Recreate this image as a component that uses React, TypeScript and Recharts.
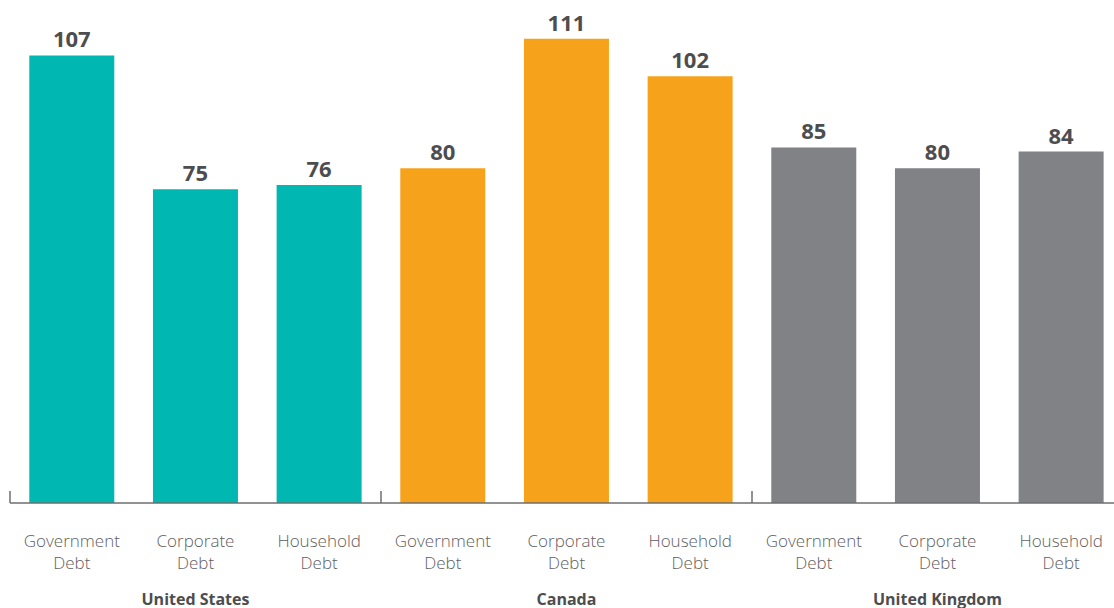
import React from "react";
import { BarChart, Bar, XAxis, YAxis, Cell, LabelList } from "recharts";

const categories = [
  "Government Debt", "Corporate Debt", "Household Debt",
  "Government Debt", "Corporate Debt", "Household Debt",
  "Government Debt", "Corporate Debt", "Household Debt",
];
const groups = ["United States", "Canada", "United Kingdom"];
const values = [107, 75, 76, 80, 111, 102, 85, 80, 84];
const groupColors = ["#00B7B2", "#F7A21B", "#808285"];

const data = categories.map((c, i) => ({
  key: `${i}`,
  label: c,
  group: groups[Math.floor(i / 3)],
  value: values[i],
  color: groupColors[Math.floor(i / 3)],
}));

const CHART_W = 1130;
const CHART_H = 608;
const MARGIN = { top: 1, right: 7, bottom: 0, left: 10 };
const BAND = (CHART_W - MARGIN.left - MARGIN.right) / data.length;

const Tick = (props: any) => {
  const { x, y, index } = props;
  const d = data[index];
  const words = d.label.split(" ");
  return (
    <g>
      {index % 3 === 0 && (
        <line x1={x - BAND / 2} x2={x - BAND / 2} y1={y - 12} y2={y} stroke="#6d6e71" strokeWidth={1.5} />
      )}
      <text x={x} y={y + 43.5} textAnchor="middle" fill="#5f6062" fontSize={17} fontWeight={300} fontFamily="'Open Sans', sans-serif">
        {words[0]}
      </text>
      <text x={x} y={y + 65.5} textAnchor="middle" fill="#5f6062" fontSize={17} fontWeight={300} fontFamily="'Open Sans', sans-serif">
        {words[1]}
      </text>
      {index % 3 === 1 && (
        <text x={x} y={y + 101.5} textAnchor="middle" fill="#4d4d4f" fontSize={16} fontWeight={700} fontFamily="'Open Sans', sans-serif">
          {d.group}
        </text>
      )}
    </g>
  );
};

export default function App() {
  return (
    <div style={{ position: "absolute", left: 0, top: 0, width: 1114, height: 608, overflow: "hidden", background: "#fff" }}>
      <BarChart width={CHART_W} height={CHART_H} data={data} margin={MARGIN} barCategoryGap="15.6%">
        <XAxis
          dataKey="key"
          height={105}
          interval={0}
          tickSize={0}
          tickMargin={0}
          tickLine={false}
          axisLine={{ stroke: "#6d6e71", strokeWidth: 1.5 }}
          tick={<Tick />}
        />
        <YAxis hide domain={[0, 120]} />
        <Bar dataKey="value" isAnimationActive={false}>
          {data.map((d, i) => (
            <Cell key={i} fill={d.color} />
          ))}
          <LabelList
            dataKey="value"
            position="top"
            offset={8}
            fill="#4d4d4f"
            fontSize={22}
            fontWeight={700}
            fontFamily="'Open Sans', sans-serif"
          />
        </Bar>
      </BarChart>
    </div>
  );
}
